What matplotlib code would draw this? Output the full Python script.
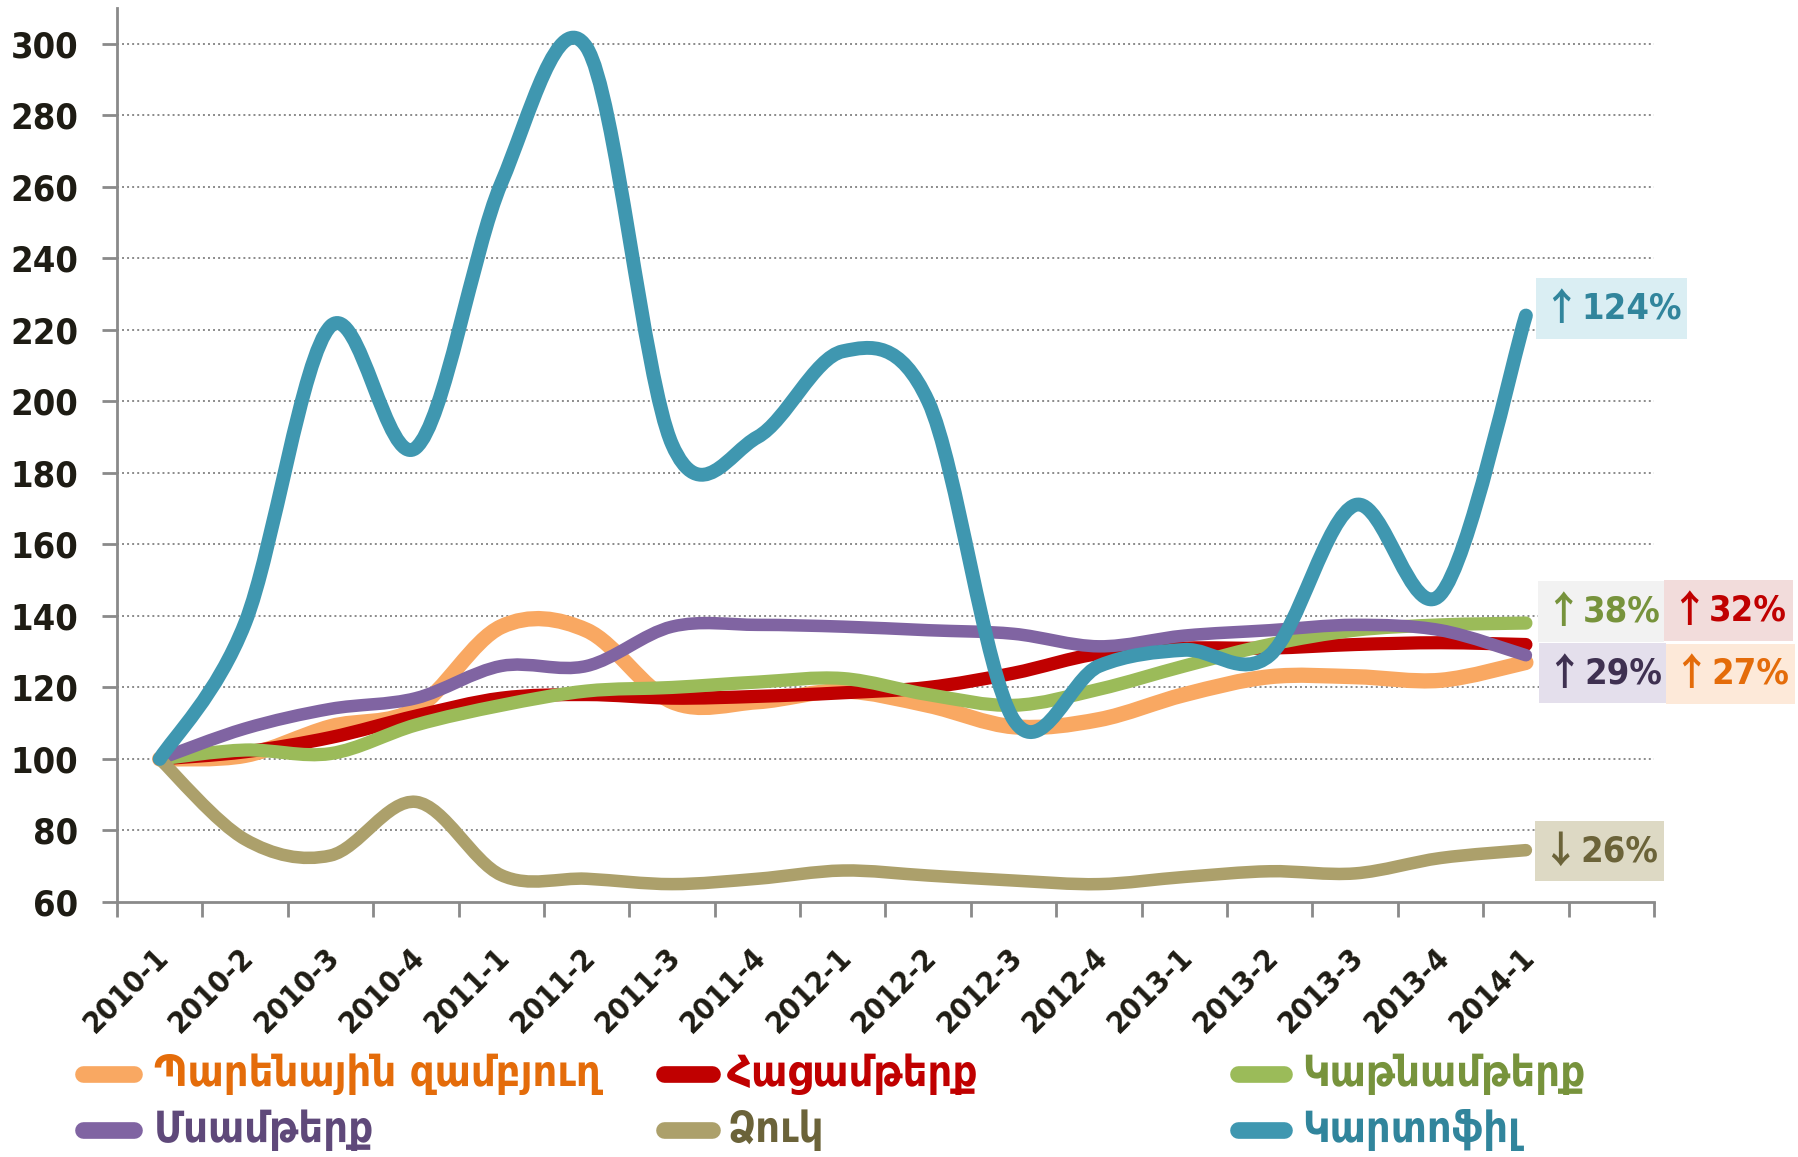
import numpy as np
import matplotlib
matplotlib.use("Agg")
import matplotlib.pyplot as plt
from matplotlib.path import Path
from matplotlib.patches import PathPatch, Rectangle
from matplotlib.lines import Line2D
from matplotlib.transforms import ScaledTranslation

# ---------------- data ----------------
categories = ["2010-1", "2010-2", "2010-3", "2010-4", "2011-1", "2011-2", "2011-3",
              "2011-4", "2012-1", "2012-2", "2012-3", "2012-4", "2013-1", "2013-2",
              "2013-3", "2013-4", "2014-1"]

food_basket = [100, 101, 109, 114, 137, 136, 116, 116, 119, 115, 109, 111, 118, 123, 123, 122, 127]
bread       = [100, 102, 106, 112, 117, 118, 117, 117.5, 118.5, 120, 124, 129.5, 131, 131, 132, 132.5, 132]
dairy       = [100, 102.5, 101.5, 109.5, 115, 119, 120, 121.5, 122.5, 118, 115, 119.5, 126, 132, 136, 137.5, 138]
meat        = [100, 108.5, 114, 117, 126, 126, 137, 137.5, 137, 136, 135, 131.5, 134.5, 136, 137.5, 136, 129]
fish        = [100, 77.5, 73, 88, 67.5, 66.5, 65, 66.5, 68.8, 67.4, 66, 65, 67, 68.6, 68, 72.3, 74.5]
potato      = [100, 138, 221, 187, 261, 299, 188, 190, 214, 200, 111, 126, 130.5, 129, 171, 146, 224]

series_names = ["Պարենային զամբյուղ", "Հացամթերք", "Կաթնամթերք",
                "Մսամթերք", "Ձուկ", "Կարտոֆիլ"]
yticks = [60, 80, 100, 120, 140, 160, 180, 200, 220, 240, 260, 280, 300]

change_arrows = ["↑", "↑", "↑", "↑", "↑", "↓"]
change_values = ["124%", "38%", "32%", "29%", "27%", "26%"]

# ---------------- styling ----------------
line_colors = ["#F9A862", "#C00000", "#9BBB59", "#8064A2", "#ACA06B", "#3F97B0"]
text_colors = ["#E46C0A", "#C00000", "#77933C", "#5F497A", "#6B6339", "#31859C"]
line_widths = [11, 9.5, 9.5, 9, 9, 10]

W, H = 1799, 1157
fig = plt.figure(figsize=(W / 100, H / 100), dpi=100)
ax = fig.add_axes([117 / W, 1 - 902 / H, (1654 - 117) / W, (902 - 8) / H])

FONT = dict(family=["DejaVu Sans"], fontweight="bold", fontstretch="condensed")


def smooth_path(xs, ys):
    pts = np.column_stack([xs, ys]).astype(float)
    n = len(pts)
    verts = [pts[0]]
    codes = [Path.MOVETO]
    for i in range(n - 1):
        p0 = pts[i - 1] if i > 0 else pts[i]
        p1 = pts[i]
        p2 = pts[i + 1]
        p3 = pts[i + 2] if i + 2 < n else pts[i + 1]
        c1 = p1 + (p2 - p0) / 6.0
        c2 = p2 - (p3 - p1) / 6.0
        verts += [c1, c2, p2]
        codes += [Path.CURVE4] * 3
    return Path(verts, codes)


all_series = [food_basket, bread, dairy, meat, fish, potato]
x = np.arange(len(categories))
for k, ys in enumerate(all_series):
    patch = PathPatch(smooth_path(x, ys), facecolor="none", edgecolor=line_colors[k],
                      lw=line_widths[k], capstyle="round", joinstyle="round", zorder=3 + k)
    ax.add_patch(patch)

ax.set_xlim(-0.5, 17.5)
ax.set_ylim(60, 310)

for yv in yticks[1:]:
    ax.axhline(yv, color="#8a8a8a", lw=1.4, linestyle=(0, (1, 1.6)), zorder=1)

for s in ["top", "right"]:
    ax.spines[s].set_visible(False)
for s in ["left", "bottom"]:
    ax.spines[s].set_color("#8a8a8a")
    ax.spines[s].set_linewidth(2)

ax.set_yticks(yticks)
ax.set_yticklabels([str(v) for v in yticks], color="#1E1C14", fontsize=26, **FONT)
ax.tick_params(axis="y", length=11, width=2, color="#8a8a8a", pad=17)

ax.set_xticks(np.arange(-0.5, 18.0, 1.0))
ax.set_xticklabels([])
ax.tick_params(axis="x", which="major", length=11, width=2, color="#8a8a8a")
ax.set_xticks(x, minor=True)
ax.set_xticklabels(categories, minor=True, color="#1E1C14", fontsize=22, **FONT)
ax.tick_params(axis="x", which="minor", length=0, pad=29)
for lab in ax.get_xticklabels(minor=True):
    lab.set_rotation(45)
    lab.set_ha("right")
    lab.set_va("top")
    lab.set_rotation_mode("anchor")
    lab.set_transform(lab.get_transform() + ScaledTranslation(-6 / 100, 0, fig.dpi_scale_trans))

# ---------------- legend (manual) ----------------
leg_rows = [1 - 1074 / H, 1 - 1130 / H]
leg_cols = [(75, 142, 154), (656, 720, 727), (1230, 1292, 1302)]
leg_pos = [(0, 0), (0, 1), (0, 2), (1, 0), (1, 1), (1, 2)]
for k, (r, c) in enumerate(leg_pos):
    x0, x1, xt = leg_cols[c]
    yy = leg_rows[r]
    fig.add_artist(Line2D([(x0 + 8) / W, (x1 - 8) / W], [yy, yy], transform=fig.transFigure,
                          color=line_colors[k], lw=12, solid_capstyle="round"))
    fig.text(xt / W, yy, series_names[k], color=text_colors[k], fontsize=31,
             va="center", ha="left", **FONT)

# ---------------- change boxes ----------------
box_bg = ["#DAEEF3", "#F2F2F2", "#F2DCDB", "#E4DFEC", "#FDE9D9", "#DDD9C4"]
box_fg = ["#31859C", "#77933C", "#C00000", "#3F3151", "#E46C0A", "#6B6339"]
boxes = [(1536, 278, 1687, 339), (1538, 581, 1664, 642), (1664, 580, 1793, 641),
         (1539, 643, 1666, 703), (1666, 644, 1795, 704), (1535, 821, 1664, 881)]
for k, (bx0, by0, bx1, by1) in enumerate(boxes):
    fig.add_artist(Rectangle((bx0 / W, 1 - by1 / H), (bx1 - bx0) / W, (by1 - by0) / H,
                             transform=fig.transFigure, facecolor=box_bg[k],
                             edgecolor="none", zorder=20))
    yc = 1 - (by0 + by1) / 2 / H
    fig.text((bx0 + 6) / W, yc, change_arrows[k], color=box_fg[k], fontsize=27,
             ha="left", va="center", zorder=21,
             family=["Noto Sans CJK JP", "DejaVu Sans"], fontweight="bold")
    fig.text((bx0 + 45) / W, yc, change_values[k], color=box_fg[k], fontsize=26,
             ha="left", va="center", zorder=21, **FONT)

fig.savefig("out.png", dpi=100, facecolor="white")
